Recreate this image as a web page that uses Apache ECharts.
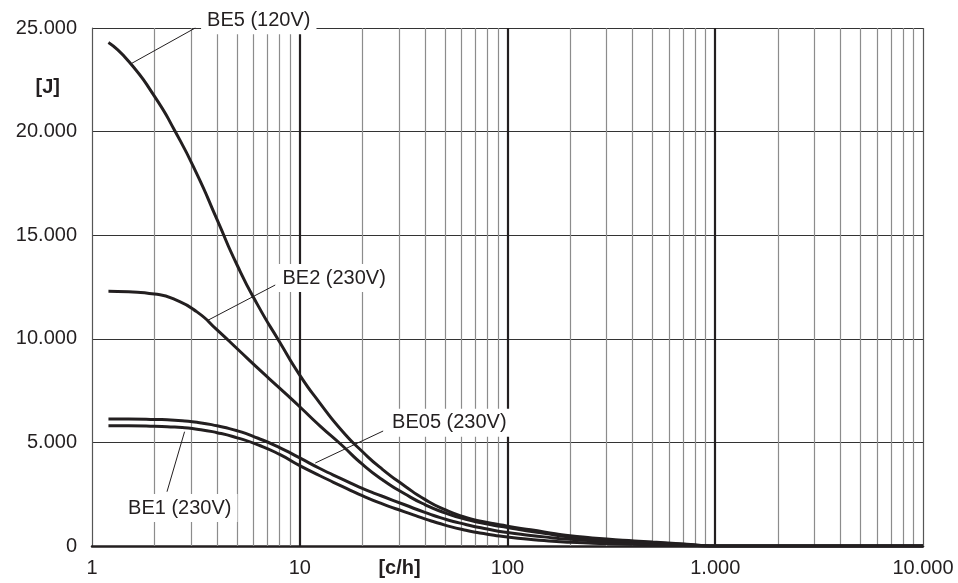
<!DOCTYPE html>
<html><head><meta charset="utf-8">
<script src="https://cdn.jsdelivr.net/npm/echarts@6/dist/echarts.min.js"></script>
<style>html,body{margin:0;padding:0;background:#fff}#c{width:958px;height:583px}</style>
</head><body><div id="c"></div>
<script>
// ---- data ----
const xValues = [1.2, 1.5, 2, 2.5, 3.2, 4, 5, 6.3, 8, 10, 12.5, 16, 20, 25, 32, 40, 50, 63, 80, 100, 150, 200, 300, 500, 700, 1000, 10000];
const be5  = [24300, 23400, 21700, 20050, 17950, 15750, 13550, 11600, 9850, 8250, 6900, 5550, 4560, 3700, 2900, 2250, 1750, 1380, 1130, 960, 680, 490, 340, 190, 100, 0, 0];
const be2  = [12300, 12270, 12160, 11900, 11300, 10430, 9520, 8570, 7620, 6720, 5800, 4850, 3950, 3200, 2520, 2000, 1600, 1290, 1060, 890, 610, 430, 290, 160, 85, 0, 0];
const be05 = [6130, 6130, 6110, 6070, 5970, 5800, 5560, 5200, 4750, 4250, 3740, 3230, 2780, 2400, 1990, 1620, 1300, 1040, 820, 650, 440, 320, 220, 120, 60, 0, 0];
const be1  = [5800, 5800, 5780, 5740, 5640, 5470, 5220, 4880, 4420, 3880, 3390, 2880, 2430, 2030, 1650, 1310, 1010, 760, 570, 430, 260, 180, 120, 65, 30, 0, 0];
const seriesNames = ['BE5 (120V)', 'BE2 (230V)', 'BE05 (230V)', 'BE1 (230V)'];
const xTicks = [1, 10, 100, 1000, 10000];
const yTicks = [0, 5000, 10000, 15000, 20000, 25000];
const minorX = [2,3,4,5,6,7,8,9, 20,30,40,50,60,70,80,90, 200,300,400,500,600,700,800,900, 2000,3000,4000,5000,6000,7000,8000,9000];
const labelAnchors = [[6.35, 24990], [14.64, 12934], [52.5, 5950], [2.646, 1834]];
const leaderStarts = [[1.557, 23300], [3.575, 10870], [11.88, 4006], [2.296, 2620]];
const leaderEnds   = [[3.14, 25000], [7.62, 12596], [25.2, 5550], [2.79, 5516]];
const axisNames = ['[c/h]', '[J]'];

const ink = '#231f20';
const FONT = 'Liberation Sans, Arial, sans-serif';
const fmt = v => String(Math.round(v)).replace(/\B(?=(\d{3})+(?!\d))/g, '.');
const curves = [be5, be2, be05, be1];

const chart = echarts.init(document.getElementById('c'), null, {renderer: 'canvas'});
const series = curves.map((vals, i) => ({
  name: seriesNames[i], type: 'line', z: 3,
  data: xValues.map((x, j) => [x, vals[j]]),
  showSymbol: false, smooth: 0.6,
  lineStyle: {color: ink, width: 3}, itemStyle: {color: ink},
  emphasis: {disabled: true}
}));
// minor grid lines + right border
series.push({
  type: 'line', data: [], z: 1,
  markLine: {
    silent: true, z: 1, symbol: ['none', 'none'], label: {show: false},
    lineStyle: {color: '#8c8c8c', width: 1.2, type: 'solid'},
    emphasis: {disabled: true},
    data: minorX.map(v => ({xAxis: v})).concat([{xAxis: xTicks[xTicks.length - 1], lineStyle: {color: '#555', width: 1.2, type: 'solid'}}])
  }
});
// leader lines + labels
series.push({
  type: 'line', data: [], z: 8,
  markLine: {
    silent: true, z: 8, symbol: ['none', 'none'], label: {show: false},
    lineStyle: {color: ink, width: 1, type: 'solid'},
    emphasis: {disabled: true},
    data: leaderStarts.map((s, i) => [{coord: s}, {coord: leaderEnds[i]}])
  },
  markPoint: {
    silent: true, z: 10, symbol: 'rect', symbolSize: 1,
    itemStyle: {color: 'rgba(0,0,0,0)'},
    label: {show: true, position: 'inside', color: ink, fontSize: 20, fontFamily: FONT,
            backgroundColor: '#fff', padding: [4, 6], formatter: p => p.name},
    data: labelAnchors.map((c, i) => ({name: seriesNames[i], coord: c,
      label: i === 0 ? {offset: [0, -8]} : {}}))
  }
});

chart.setOption({
  animation: false,
  backgroundColor: '#fff',
  grid: {left: 92, right: 35, top: 28, bottom: 37, containLabel: false, outerBoundsMode: 'none'},
  xAxis: {
    type: 'log', logBase: 10, min: xTicks[0], max: xTicks[xTicks.length - 1],
    name: axisNames[0], nameLocation: 'middle', nameGap: 12, nameMoveOverlap: false,
    nameTextStyle: {fontWeight: 'bold', fontSize: 20, color: ink, fontFamily: FONT, padding: [0, 216, 0, 0]},
    axisLine: {show: true, lineStyle: {color: ink, width: 2.5}},
    axisTick: {show: false},
    axisLabel: {formatter: fmt, fontSize: 20, color: ink, fontFamily: FONT, margin: 12},
    splitLine: {show: true, showMinLine: false, showMaxLine: false, lineStyle: {color: ink, width: 2.2}}
  },
  yAxis: {
    type: 'value', min: yTicks[0], max: yTicks[yTicks.length - 1], interval: yTicks[1] - yTicks[0],
    name: axisNames[1], nameLocation: 'end', nameGap: -69, nameMoveOverlap: false,
    nameTextStyle: {fontWeight: 'bold', fontSize: 20, color: ink, fontFamily: FONT, align: 'right', padding: [0, 32, 0, 0]},
    axisLine: {show: true, lineStyle: {color: '#555', width: 1.2}},
    axisTick: {show: false},
    axisLabel: {formatter: fmt, fontSize: 20, color: ink, fontFamily: FONT, margin: 15},
    splitLine: {show: true, lineStyle: {color: '#333', width: 1}}
  },
  series: series
});
</script></body></html>
